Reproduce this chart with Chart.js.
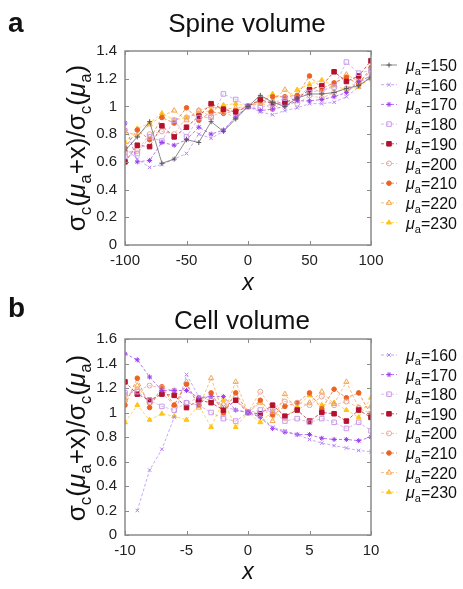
<!DOCTYPE html>
<html>
<head>
<meta charset="utf-8">
<script src="https://cdn.jsdelivr.net/npm/chart.js@4.4.1/dist/chart.umd.min.js"></script>
<style>
  body { margin: 0; background: #fff; }
  canvas { position: absolute; left: 0; }
  #spine { top: 0; }
  #cell { top: 295px; }
</style>
</head>
<body>
<canvas id="spine" width="463" height="295"></canvas>
<canvas id="cell" width="463" height="294"></canvas>
<script>
// x values
const spineX = [-100, -90, -80, -70, -60, -50, -40, -30, -20, -10, 0, 10, 20, 30, 40, 50, 60, 70, 80, 90, 100];
const cellX = [-10, -9, -8, -7, -6, -5, -4, -3, -2, -1, 0, 1, 2, 3, 4, 5, 6, 7, 8, 9, 10];

// legend labels (mu_a)
const spineMu = [150, 160, 170, 180, 190, 200, 210, 220, 230];
const cellMu = [160, 170, 180, 190, 200, 210, 220, 230];

// tick labels
const spineXTicks = [-100, -50, 0, 50, 100];
const spineYTicks = [0, 0.2, 0.4, 0.6, 0.8, 1, 1.2, 1.4];
const cellXTicks = [-10, -5, 0, 5, 10];
const cellYTicks = [0, 0.2, 0.4, 0.6, 0.8, 1, 1.2, 1.4, 1.6];

// spine volume series
const spine150 = [0.68, 0.78, 0.89, 0.59, 0.62, 0.76, 0.74, 0.89, 0.82, 0.91, 1.0, 1.08, 1.03, 1.0, 1.06, 1.09, 1.09, 1.10, 1.13, 1.15, 1.21];
const spine160 = [0.70, 0.62, 0.56, 0.58, 0.62, 0.66, 0.80, 0.77, 0.82, 0.93, 1.0, 0.96, 0.94, 0.97, 0.99, 1.02, 1.02, 1.03, 1.07, 1.14, 1.22];
const spine170 = [0.88, 0.60, 0.61, 0.74, 0.72, 0.76, 0.85, 0.80, 0.83, 0.92, 1.0, 0.97, 0.98, 1.00, 1.04, 1.04, 1.05, 1.07, 1.10, 1.18, 1.22];
const spine180 = [0.64, 0.66, 0.78, 0.75, 0.90, 0.78, 0.92, 0.92, 1.09, 1.05, 1.0, 0.99, 1.02, 1.06, 1.06, 1.10, 1.12, 1.14, 1.32, 1.24, 1.26];
const spine190 = [0.60, 0.72, 0.71, 0.86, 0.78, 0.85, 0.93, 1.02, 0.98, 0.96, 1.0, 1.05, 1.02, 1.03, 1.06, 1.12, 1.15, 1.25, 1.18, 1.22, 1.33];
const spine200 = [0.67, 0.68, 0.80, 0.82, 0.80, 0.92, 0.97, 0.93, 0.96, 0.92, 1.0, 1.03, 0.98, 1.04, 1.02, 1.08, 1.06, 1.10, 1.13, 1.18, 1.20];
const spine210 = [0.70, 0.83, 0.76, 0.92, 0.88, 0.99, 0.90, 0.96, 0.95, 0.97, 1.0, 1.04, 1.07, 1.07, 1.08, 1.22, 1.13, 1.17, 1.21, 1.16, 1.28];
const spine220 = [0.82, 0.79, 0.87, 0.93, 0.97, 0.90, 0.97, 1.00, 0.98, 0.99, 1.0, 1.02, 1.04, 1.12, 1.06, 1.14, 1.10, 1.16, 1.23, 1.18, 1.25];
const spine230 = [0.74, 0.84, 0.88, 0.95, 0.90, 0.92, 0.95, 0.97, 1.01, 1.02, 1.0, 1.05, 1.09, 1.06, 1.12, 1.16, 1.19, 1.15, 1.12, 1.14, 1.21];

// cell volume series
const cell160 = [null, 0.20, 0.53, 0.70, 0.96, 1.31, 1.13, 1.12, 1.05, 1.02, 1.0, 0.97, 0.88, 0.85, 0.82, 0.78, 0.75, 0.73, 0.71, 0.69, 0.68];
const cell170 = [1.48, 1.43, 1.29, 1.18, 1.18, 1.18, 1.12, 1.13, 1.13, 1.02, 1.0, 0.96, 0.87, 0.84, 0.82, 0.82, 0.79, 0.78, 0.78, 0.77, 0.80];
const cell180 = [1.16, 1.17, 1.10, 1.05, 1.02, 1.08, 1.06, 1.00, 0.95, 0.93, 1.0, 1.02, 1.01, 0.93, 0.95, 0.92, 0.95, 0.92, 0.87, 0.92, 0.85];
const cell190 = [1.25, 1.15, 1.10, 1.15, 1.14, 1.04, 1.10, 1.08, 1.02, 1.10, 1.0, 0.99, 1.06, 0.97, 1.02, 0.93, 1.00, 0.99, 0.93, 1.02, 0.96];
const cell200 = [1.14, 1.18, 1.22, 1.20, 1.18, 1.08, 1.12, 1.10, 1.06, 1.12, 1.0, 1.17, 1.03, 1.09, 1.08, 1.06, 1.13, 1.06, 1.09, 1.04, 0.99];
const cell210 = [1.06, 1.28, 1.04, 1.21, 1.06, 1.23, 1.06, 1.16, 1.00, 1.16, 1.0, 1.10, 0.98, 1.05, 1.08, 1.16, 1.03, 1.19, 1.12, 1.16, 0.98];
const cell220 = [1.10, 1.22, 1.08, 1.16, 1.06, 1.25, 1.04, 1.28, 0.99, 1.25, 1.0, 1.08, 0.93, 1.15, 1.02, 1.08, 1.17, 1.07, 1.25, 1.04, 1.05];
const cell230 = [0.92, 1.06, 0.94, 0.99, 0.97, 0.94, 1.06, 0.88, 1.10, 0.88, 1.0, 0.92, 1.01, 0.95, 1.05, 1.14, 1.06, 1.08, 1.02, 0.96, 1.12];

// look of each mu_a series (gnuplot-ish point types)
const styles = {
  150: { color: '#5a5a5a', point: 'cross', filled: false, r: 2.5, dash: [] },
  160: { color: '#b184f0', point: 'crossRot', filled: false, r: 2.5, dash: [3, 2] },
  170: { color: '#9a3cf0', point: 'star', filled: false, r: 2.5, dash: [3, 2] },
  180: { color: '#c99be9', point: 'rect', filled: false, r: 3.2, dash: [3, 2] },
  190: { color: '#b5112e', point: 'rect', filled: true, r: 3.2, dash: [3, 2] },
  200: { color: '#e9a594', point: 'circle', filled: false, r: 2.5, dash: [3, 2] },
  210: { color: '#ec6220', point: 'circle', filled: true, r: 2.3, dash: [3, 2] },
  220: { color: '#f4a54a', point: 'triangle', filled: false, r: 3, dash: [3, 2] },
  230: { color: '#ffc414', point: 'triangle', filled: true, r: 2.8, dash: [3, 2] }
};

const FONT = '"Liberation Sans", Arial, Helvetica, sans-serif';

function alpha(hex, a) {
  const n = parseInt(hex.slice(1), 16);
  return `rgba(${n >> 16},${(n >> 8) & 255},${n & 255},${a})`;
}

function makeDatasets(xs, series, mus) {
  return series.map((ys, i) => {
    const s = styles[mus[i]];
    return {
      label: 'mu=' + mus[i],
      data: xs.map((x, j) => ({ x: x, y: ys[j] })),
      borderColor: alpha(s.color, 0.7),
      borderWidth: 1,
      borderDash: s.dash,
      pointStyle: s.point,
      pointRadius: s.r,
      pointBorderWidth: 1,
      pointBorderColor: s.color,
      pointBackgroundColor: s.filled ? s.color : 'rgba(255,255,255,0)',
      spanGaps: false,
      tension: 0
    };
  });
}

// draw a list of text pieces, returns total width
function textRun(ctx, parts, x, y, measureOnly) {
  let cx = x;
  parts.forEach(p => {
    ctx.font = p.font;
    if (!measureOnly) ctx.fillText(p.t, cx, y + (p.dy || 0));
    cx += ctx.measureText(p.t).width;
  });
  return cx - x;
}

function muParts(val) {
  return [
    { t: 'μ', font: 'italic 16px ' + FONT },
    { t: 'a', font: '11px ' + FONT, dy: 4 },
    { t: '=' + val, font: '16px ' + FONT }
  ];
}

const yLabelParts = [
  { t: 'σ', font: '26px ' + FONT },
  { t: 'c', font: '17px ' + FONT, dy: 6 },
  { t: '(', font: '26px ' + FONT },
  { t: 'μ', font: 'italic 26px ' + FONT },
  { t: 'a', font: '17px ' + FONT, dy: 6 },
  { t: '+x)/', font: '26px ' + FONT },
  { t: 'σ', font: '26px ' + FONT },
  { t: 'c', font: '17px ' + FONT, dy: 6 },
  { t: '(', font: '26px ' + FONT },
  { t: 'μ', font: 'italic 26px ' + FONT },
  { t: 'a', font: '17px ' + FONT, dy: 6 },
  { t: ')', font: '26px ' + FONT }
];

function decorPlugin(cfg) {
  return {
    id: 'decor',
    afterDraw(chart) {
      const ctx = chart.ctx;
      const a = chart.chartArea;
      const xs = chart.scales.x, ys = chart.scales.y;
      ctx.save();
      // frame
      ctx.strokeStyle = '#8a8a8a';
      ctx.lineWidth = 1.5;
      ctx.strokeRect(a.left, a.top, a.right - a.left, a.bottom - a.top);
      // inward ticks on all sides
      ctx.lineWidth = 1;
      ctx.beginPath();
      cfg.xTicks.forEach(v => {
        const px = Math.round(xs.getPixelForValue(v)) + 0.5;
        ctx.moveTo(px, a.bottom); ctx.lineTo(px, a.bottom - 4);
        ctx.moveTo(px, a.top); ctx.lineTo(px, a.top + 4);
      });
      cfg.yTicks.forEach(v => {
        const py = Math.round(ys.getPixelForValue(v)) + 0.5;
        ctx.moveTo(a.left, py); ctx.lineTo(a.left + 4, py);
        ctx.moveTo(a.right, py); ctx.lineTo(a.right - 4, py);
      });
      ctx.stroke();

      ctx.fillStyle = '#111';
      ctx.textBaseline = 'alphabetic';
      // panel letter
      ctx.font = 'bold 28px ' + FONT;
      ctx.textAlign = 'left';
      ctx.fillText(cfg.letter, 8, cfg.letterY);
      // title
      ctx.font = '26px ' + FONT;
      ctx.textAlign = 'center';
      ctx.fillText(cfg.title, cfg.titleX, cfg.titleY);
      // x label
      ctx.font = 'italic 23px ' + FONT;
      ctx.fillText('x', (a.left + a.right) / 2, cfg.xLabelY);

      // y label (rotated, with subscripts)
      ctx.textAlign = 'left';
      ctx.save();
      ctx.translate(85, cfg.yLabelY);
      ctx.rotate(-Math.PI / 2);
      const w = textRun(ctx, yLabelParts, 0, 0, true);
      textRun(ctx, yLabelParts, -w / 2, 0, false);
      ctx.restore();

      // legend
      cfg.mus.forEach((mu, i) => {
        const s = styles[mu];
        const y = cfg.legendTop + i * cfg.legendStep;
        ctx.save();
        ctx.strokeStyle = alpha(s.color, 0.7);
        ctx.lineWidth = 1;
        ctx.setLineDash(s.dash);
        ctx.beginPath();
        ctx.moveTo(381, y); ctx.lineTo(397, y);
        ctx.stroke();
        ctx.setLineDash([]);
        ctx.fillStyle = s.filled ? s.color : 'rgba(255,255,255,0)';
        ctx.strokeStyle = s.color;
        Chart.helpers.drawPoint(ctx, { pointStyle: s.point, radius: s.r, borderWidth: 1 }, 389, y);
        ctx.restore();
        ctx.fillStyle = '#111';
        textRun(ctx, muParts(mu), 406, y + 6, false);
      });
      ctx.restore();
    }
  };
}

function makeChart(id, xs, series, mus, opts) {
  return new Chart(document.getElementById(id).getContext('2d'), {
    type: 'line',
    data: { datasets: makeDatasets(xs, series, mus) },
    options: {
      responsive: false,
      animation: false,
      devicePixelRatio: 1,
      layout: { padding: { left: 85, right: 92, top: opts.top, bottom: 0 } },
      plugins: { legend: { display: false }, tooltip: { enabled: false } },
      scales: {
        x: {
          type: 'linear',
          min: opts.xTicks[0], max: opts.xTicks[opts.xTicks.length - 1],
          afterBuildTicks: sc => { sc.ticks = opts.xTicks.map(v => ({ value: v })); },
          afterFit: sc => { sc.height = opts.xAxisH; },
          grid: { display: false, drawTicks: false },
          border: { display: false },
          ticks: { padding: 7, color: '#222', font: { family: FONT, size: 15 }, maxRotation: 0 }
        },
        y: {
          min: 0, max: opts.yTicks[opts.yTicks.length - 1],
          afterBuildTicks: sc => { sc.ticks = opts.yTicks.map(v => ({ value: v })); },
          afterFit: sc => { sc.width = 40; },
          grid: { display: false, drawTicks: false },
          border: { display: false },
          ticks: {
            padding: 8, color: '#222', font: { family: FONT, size: 15 },
            callback: v => String(Number(v.toFixed(1)))
          }
        }
      }
    },
    plugins: [decorPlugin(opts)]
  });
}

makeChart('spine', spineX,
  [spine150, spine160, spine170, spine180, spine190, spine200, spine210, spine220, spine230],
  spineMu, {
    top: 51, xAxisH: 50, xTicks: spineXTicks, yTicks: spineYTicks,
    letter: 'a', letterY: 32, title: 'Spine volume', titleX: 247, titleY: 32,
    xLabelY: 290, yLabelY: 148, mus: spineMu, legendTop: 65, legendStep: 19.7
  });

makeChart('cell', cellX,
  [cell160, cell170, cell180, cell190, cell200, cell210, cell220, cell230],
  cellMu, {
    top: 44, xAxisH: 54, xTicks: cellXTicks, yTicks: cellYTicks,
    letter: 'b', letterY: 22, title: 'Cell volume', titleX: 242, titleY: 34,
    xLabelY: 284, yLabelY: 143, mus: cellMu, legendTop: 60, legendStep: 19.6
  });
</script>
</body>
</html>
